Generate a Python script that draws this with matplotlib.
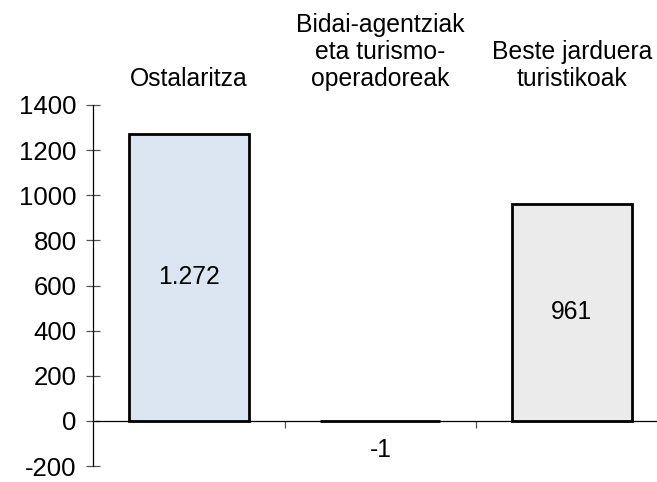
import matplotlib
matplotlib.use("Agg")
import matplotlib.pyplot as plt
from matplotlib.ticker import FixedLocator

categories = ["Ostalaritza", "Bidai-agentziak\neta turismo-\noperadoreak", "Beste jarduera\nturistikoak"]
values = [1272, -1, 961]
value_labels = ["1.272", "-1", "961"]
bar_colors = ["#DCE6F2", "#DCE6F2", "#EBEBEB"]
yticks = [-200, 0, 200, 400, 600, 800, 1000, 1200, 1400]

plt.rcParams['font.family'] = ['Liberation Sans', 'DejaVu Sans']
FS = 17.8
FS_TICK = 18.5

fig = plt.figure(figsize=(6.57, 4.82), dpi=100)
W, H = 657, 482
left_px, right_px, top_px, bot_px = 93.3, 657, 105, 466
ax = fig.add_axes([left_px / W, (H - bot_px) / H, (right_px - left_px) / W, (bot_px - top_px) / H])

x = list(range(len(categories)))
ax.bar(x, values, width=0.627, color=bar_colors, edgecolor="black", linewidth=2.0, zorder=3)

ax.set_xlim(-0.5, 2.445)
ax.set_ylim(-200, 1400)
ax.set_yticks(yticks)
ax.set_yticklabels([str(t) for t in yticks], fontsize=FS_TICK)
ax.tick_params(axis='y', direction='inout', length=10, width=0.9, color='#555555', pad=7)

ax.xaxis.set_major_locator(FixedLocator([0.5, 1.5]))
ax.set_xticklabels([])
ax.tick_params(axis='x', direction='out', length=5, width=0.9, color='#555555')

for s in ['top', 'right']:
    ax.spines[s].set_visible(False)
ax.spines['bottom'].set_position(('data', 0))
ax.spines['bottom'].set_linewidth(0.9)
ax.spines['left'].set_linewidth(0.9)
ax.spines['bottom'].set_zorder(2)

for xi, v, lab in zip(x, values, value_labels):
    if v > 100:
        ax.text(xi, v / 2, lab, ha='center', va='center', fontsize=FS, zorder=4)
    else:
        ax.text(xi, -130, lab, ha='center', va='center', fontsize=FS, zorder=4)

for xi, cat in zip(x, categories):
    ax.text(xi, 1 + (105 - 86) / 361, cat, transform=ax.get_xaxis_transform(),
            ha='center', va='baseline', fontsize=FS, multialignment='center', linespacing=1.17)

fig.savefig("out.png", dpi=100)
